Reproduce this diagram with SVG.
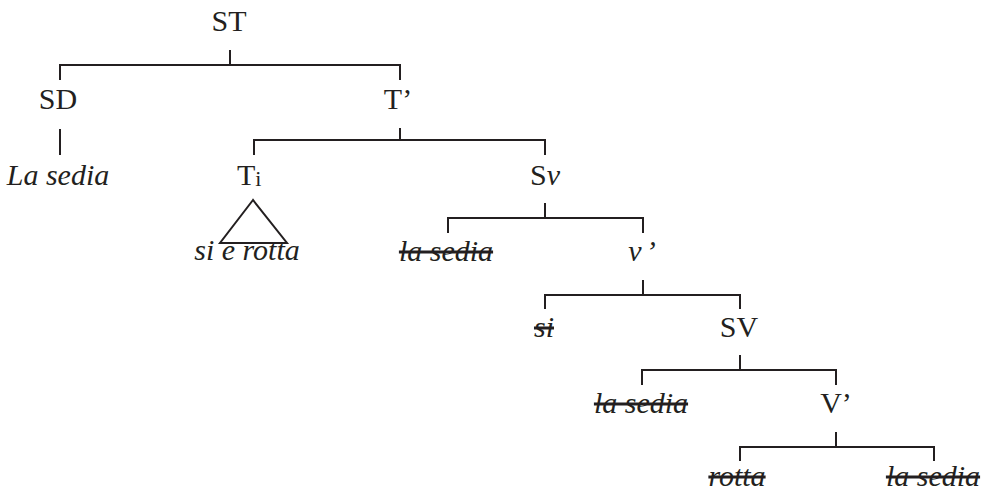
<svg xmlns="http://www.w3.org/2000/svg" width="987" height="493" viewBox="0 0 987 493">
<style>
text{font-family:"Liberation Serif","Times New Roman",serif;font-size:30px;fill:#231f20;text-anchor:middle}
.i{font-style:italic}
.s{text-decoration:line-through}
.e line,.e path{stroke:#231f20;stroke-width:2;fill:none}
</style>
<rect width="987" height="493" fill="#fff"/>
<g class="e" id="connectors">
<path d="M230 50V65M60 80V65H400V80"/>
<line x1="60" y1="129" x2="60" y2="155"/>
<path d="M400 128V140M254 155V140H545V155"/>
<path d="M253 200L220 243H287Z"/>
<path d="M545 203V218M448 233V218H643V233"/>
<path d="M643 280V295M545 309V295H740V309"/>
<path d="M740 355V370M642 385V370H836V385"/>
<path d="M836 432V447M740 461V447H934V461"/>
</g>
<g id="n-ST"><text x="229" y="31">ST</text></g>
<g id="n-SD"><text x="58" y="109">SD</text></g>
<g id="n-T1"><text x="398" y="109">T’</text></g>
<g id="n-lasedia1"><text class="i" x="58" y="185">La sedia</text></g>
<g id="n-Ti"><text x="237" y="185" style="text-anchor:start">T<tspan font-size="22" dy="1">i</tspan></text></g>
<g id="n-Sv"><text x="530" y="185" style="text-anchor:start">S<tspan class="i">v</tspan></text></g>
<g id="n-sierotta"><text class="i" x="247" y="260">si e rotta</text></g>
<g id="n-lasedia2"><text class="i s" x="446" y="261">la sedia</text></g>
<g id="n-v1"><text class="i" x="642" y="261">v<tspan dx="4">’</tspan></text></g>
<g id="n-si"><text class="i s" x="544" y="337">si</text></g>
<g id="n-SV"><text x="739" y="337">SV</text></g>
<g id="n-lasedia3"><text class="i s" x="641" y="413">la sedia</text></g>
<g id="n-V1"><text x="836" y="413">V’</text></g>
<g id="n-rotta"><text class="i s" x="737" y="486">rotta</text></g>
<g id="n-lasedia4"><text class="i s" x="933" y="486">la sedia</text></g>
</svg>
